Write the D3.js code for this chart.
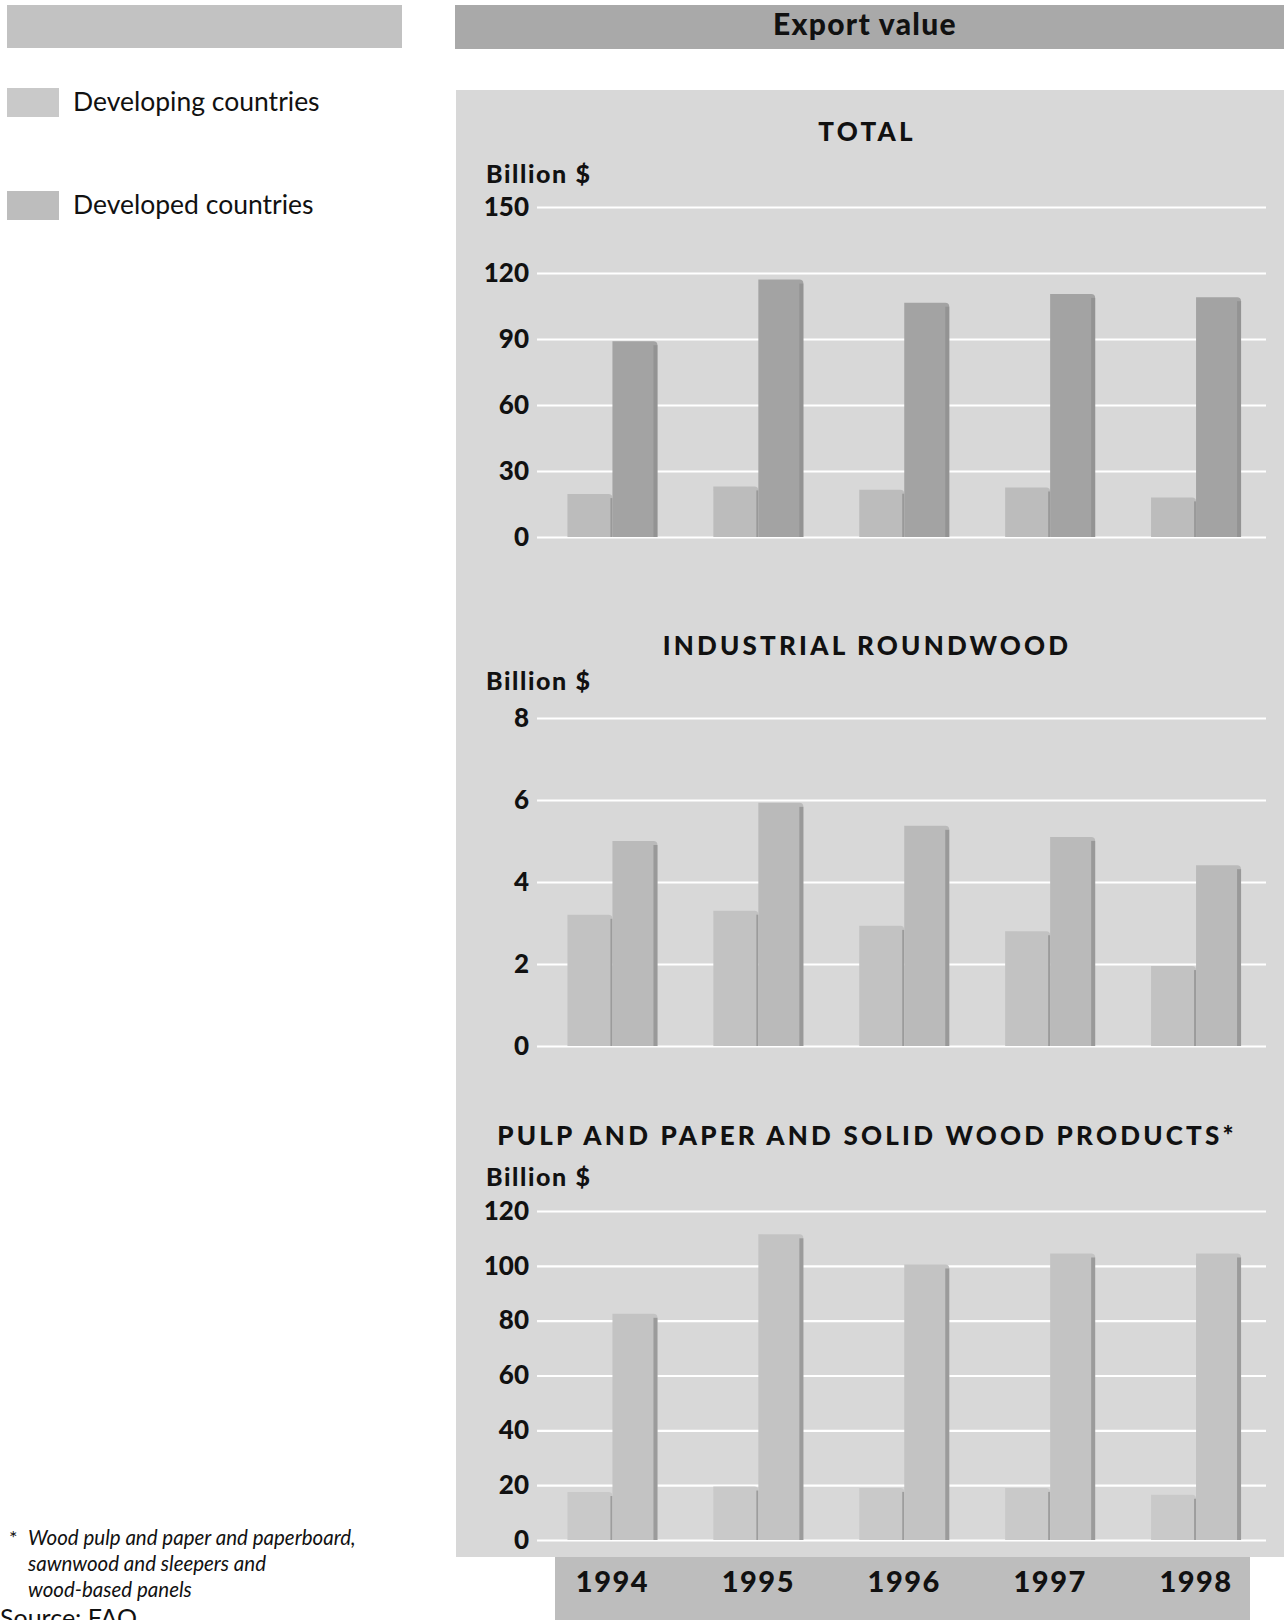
<!DOCTYPE html>
<html>
<head>
<meta charset="utf-8">
<script src="https://cdn.jsdelivr.net/npm/d3@7"></script>
<style>
  body { margin: 0; background: #fff; }
  svg { display: block; }
  text { font-family: Lato, "Open Sans", sans-serif; fill: #111; }
</style>
</head>
<body>
<svg id="chart" width="1284" height="1620"></svg>
<script>
// Export value of forest products, billion US$, by country group
const years = ["1994", "1995", "1996", "1997", "1998"];
const seriesNames = ["Developing countries", "Developed countries"];

const totalDeveloping = [19.5, 23, 21.5, 22.5, 18];
const totalDeveloped = [89, 117, 106.5, 110.5, 109];
const roundwoodDeveloping = [3.2, 3.3, 2.93, 2.8, 1.95];
const roundwoodDeveloped = [5.0, 5.93, 5.37, 5.1, 4.41];
const productsDeveloping = [17.5, 19.5, 19, 19, 16.5];
const productsDeveloped = [82.5, 111.5, 100.5, 104.5, 104.5];

const totalTicks = [0, 30, 60, 90, 120, 150];
const roundwoodTicks = [0, 2, 4, 6, 8];
const productsTicks = [0, 20, 40, 60, 80, 100, 120];

const panelTitles = ["TOTAL", "INDUSTRIAL ROUNDWOOD", "PULP AND PAPER AND SOLID WOOD PRODUCTS*"];
const unitLabel = "Billion $";
const headerTitle = "Export value";
const footnoteLines = [
  "Wood pulp and paper and paperboard,",
  "sawnwood and sleepers and",
  "wood-based panels"
];
const sourceText = "Source: FAO";

const svg = d3.select("#chart");

// ---- headers ----
svg.append("rect").attr("x", 7).attr("y", 5).attr("width", 395).attr("height", 43).attr("fill", "#c2c2c2");
svg.append("rect").attr("x", 455).attr("y", 5).attr("width", 829).attr("height", 44).attr("fill", "#a9a9a9");
svg.append("text").attr("x", 865).attr("y", 35).attr("text-anchor", "middle")
  .style("font-size", "30px").style("font-weight", 900).style("letter-spacing", "1.3px").text(headerTitle);

// ---- legend ----
const legendColors = ["#c9c9c9", "#bdbdbd"];
const legend = svg.append("g").selectAll("g").data(seriesNames).join("g")
  .attr("transform", (d, i) => `translate(7, ${88 + i * 103})`);
legend.append("rect").attr("width", 52).attr("height", 29).attr("fill", (d, i) => legendColors[i]);
legend.append("text").attr("x", 66).attr("y", 23).style("font-size", "26.5px").text(d => d);

// ---- chart background ----
svg.append("rect").attr("x", 456).attr("y", 90).attr("width", 828).attr("height", 1467).attr("fill", "#d8d8d8");

// shared x scale for the year groups
const x = d3.scaleBand().domain(years).range([539.5, 1269]).paddingInner(0.383).paddingOuter(0.1915);
const xs = d3.scaleBand().domain(seriesNames).range([0, x.bandwidth()]).padding(0);

const gridLeft = 537, gridRight = 1266;

const panels = [
  { title: panelTitles[0], dev: totalDeveloping, dvd: totalDeveloped, ticks: totalTicks,
    titleY: 141, unitY: 183, yTop: 207, yZero: 537, colors: ["#bcbcbc", "#a3a3a3"] },
  { title: panelTitles[1], dev: roundwoodDeveloping, dvd: roundwoodDeveloped, ticks: roundwoodTicks,
    titleY: 655, unitY: 690, yTop: 718, yZero: 1046, colors: ["#c2c2c2", "#bababa"] },
  { title: panelTitles[2], dev: productsDeveloping, dvd: productsDeveloped, ticks: productsTicks,
    titleY: 1145, unitY: 1186, yTop: 1211, yZero: 1540, colors: ["#c9c9c9", "#c3c3c3"] }
];

panels.forEach(p => {
  const g = svg.append("g");
  const y = d3.scaleLinear().domain([0, d3.max(p.ticks)]).range([p.yZero, p.yTop]);

  g.append("text").attr("x", 867).attr("y", p.titleY).attr("text-anchor", "middle")
    .style("font-size", "26px").style("font-weight", 900).style("letter-spacing", "3.2px").text(p.title);
  g.append("text").attr("x", 486).attr("y", p.unitY)
    .style("font-size", "25px").style("font-weight", 900).style("letter-spacing", "1.6px").text(unitLabel);

  // gridlines and value labels
  const axis = g.append("g").attr("transform", `translate(${gridLeft},0)`)
    .call(d3.axisLeft(y).tickValues(p.ticks).tickSize(-(gridRight - gridLeft)).tickPadding(8).tickFormat(d3.format("d")));
  axis.select(".domain").remove();
  axis.selectAll(".tick line").attr("stroke", "#ffffff").attr("stroke-width", 2.2);
  axis.selectAll(".tick text").attr("fill", "#111").style("font-size", "26px").style("font-weight", 900)
    .style("font-family", "Lato, sans-serif");

  const rows = years.map((yr, i) => ({ year: yr, values: [p.dev[i], p.dvd[i]] }));
  const grp = g.append("g").selectAll("g").data(rows).join("g")
    .attr("transform", d => `translate(${x(d.year)},0)`);

  const bars = grp.selectAll("g.bar").data(d => d.values.map((v, k) => ({ name: seriesNames[k], v, k })))
    .join("g").attr("class", "bar");
  // bar body
  bars.append("path")
    .attr("fill", d => p.colors[d.k])
    .attr("d", d => {
      const x0 = xs(d.name), w = xs.bandwidth(), top = y(d.v), bot = y(0), r = 4;
      return `M${x0},${bot}V${top}H${x0 + w - r}Q${x0 + w},${top} ${x0 + w},${top + r}V${bot}Z`;
    });
  // shaded right edge
  bars.append("rect")
    .attr("x", d => xs(d.name) + xs.bandwidth() - (d.k === 1 ? 4 : 2))
    .attr("y", d => y(d.v) + 4)
    .attr("width", d => d.k === 1 ? 4 : 2)
    .attr("height", d => y(0) - y(d.v) - 4)
    .attr("fill", "#8e8e8e").attr("opacity", 0.75);
});

// ---- year strip ----
svg.append("rect").attr("x", 555).attr("y", 1557).attr("width", 695).attr("height", 63).attr("fill", "#bdbdbd");
const xAxis = svg.append("g").attr("transform", "translate(0,1557)")
  .call(d3.axisBottom(x).tickSize(0).tickPadding(14));
xAxis.select(".domain").remove();
xAxis.selectAll(".tick text").attr("fill", "#111").style("font-size", "29px").style("font-weight", 900)
  .style("letter-spacing", "1.5px").style("font-family", "Lato, sans-serif");

// ---- footnote and source ----
const foot = svg.append("g");
foot.append("text").attr("x", 9).attr("y", 1545).style("font-size", "20px").text("*");
foot.selectAll("text.line").data(footnoteLines).join("text").attr("class", "line")
  .attr("x", 28).attr("y", (d, i) => 1545 + i * 26)
  .style("font-size", "20.5px").style("font-style", "italic").text(d => d);
svg.append("text").attr("x", 0).attr("y", 1627).style("font-size", "25px").text(sourceText);
</script>
</body>
</html>
